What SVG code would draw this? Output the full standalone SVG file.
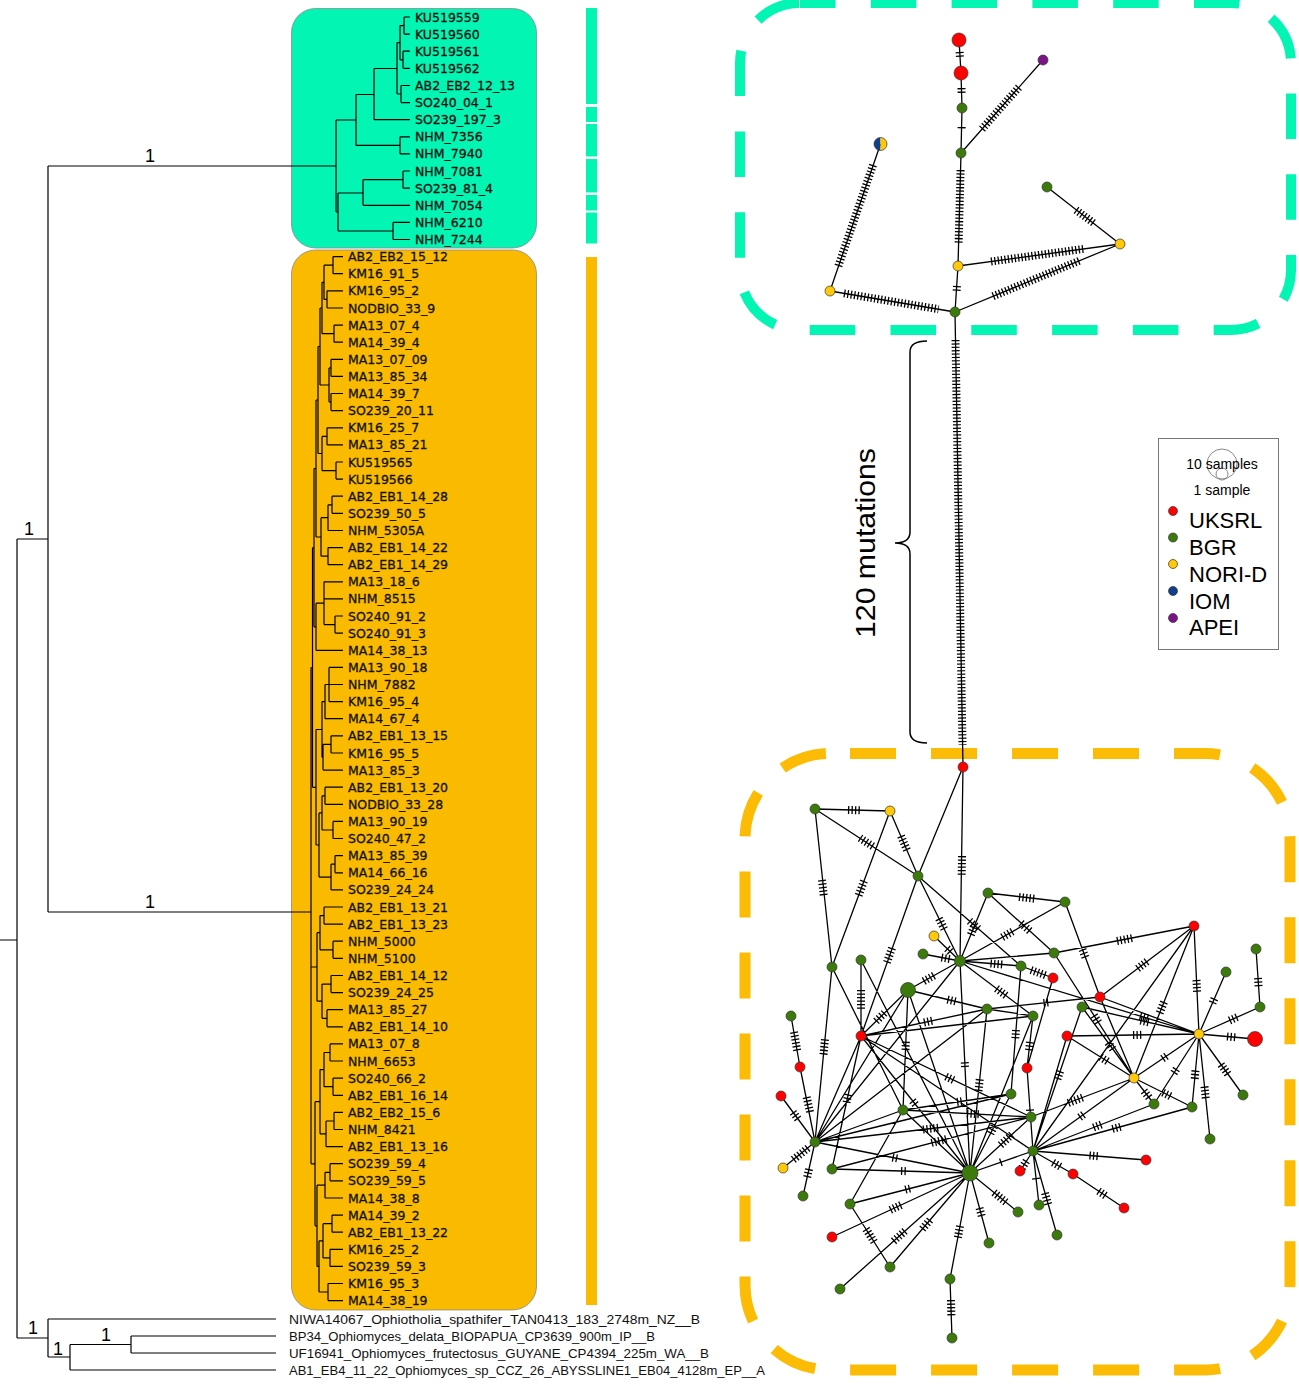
<svg xmlns="http://www.w3.org/2000/svg" width="1299" height="1386" viewBox="0 0 1299 1386">
<style>
.lf{font-family:"DejaVu Sans",sans-serif;font-size:12.5px;fill:#111;stroke:#111;stroke-width:0.3}
.og{font-family:"Liberation Sans",Arial,sans-serif;font-size:13px;fill:#111}
.sp{font-family:"Liberation Sans",Arial,sans-serif;font-size:18px;fill:#000;text-anchor:middle}
.tr{fill:none;stroke:#000;stroke-width:1.2}
.e{fill:none;stroke:#000;stroke-width:1.3}
.k{fill:none;stroke:#000;stroke-width:8}
.kr{stroke-dasharray:1.3 2.1}
.k1{stroke-dasharray:1.3 999}
.k2{stroke-dasharray:1.3 2.2 1.3 999}
.k3{stroke-dasharray:1.3 2.2 1.3 2.2 1.3 999}
.k4{stroke-dasharray:1.3 2.2 1.3 2.2 1.3 2.2 1.3 999}
.k5{stroke-dasharray:1.3 2.2 1.3 2.2 1.3 2.2 1.3 2.2 1.3 999}
.k6{stroke-dasharray:1.3 2.2 1.3 2.2 1.3 2.2 1.3 2.2 1.3 2.2 1.3 999}
.R,.G,.Y,.B,.P{stroke:#333;stroke-width:0.7}
.R{fill:#ff0000}.G{fill:#3b7a0b}.Y{fill:#ffc90a}.B{fill:#123f8c}.P{fill:#7a1487}
.lg{font-family:"Liberation Sans",Arial,sans-serif;fill:#000}
</style>

<!-- clade boxes and bars -->
<g id="clade-teal">
<rect x="291.5" y="8.5" width="245" height="239.5" rx="24" fill="#02f5b2" stroke="#8a8a8a" stroke-width="0.8"/>
</g>
<g id="clade-orange">
<rect x="291.5" y="250" width="245" height="1060" rx="24" fill="#faba00" stroke="#8a8a8a" stroke-width="0.8"/>
</g>
<g id="bars">
<rect x="586" y="8" width="11" height="96" fill="#02f5b2"/>
<rect x="586" y="107" width="11" height="15" fill="#02f5b2"/>
<rect x="586" y="124" width="11" height="32.5" fill="#02f5b2"/>
<rect x="586" y="159" width="11" height="33.5" fill="#02f5b2"/>
<rect x="586" y="195" width="11" height="15.5" fill="#02f5b2"/>
<rect x="586" y="212.5" width="11" height="31" fill="#02f5b2"/>
<rect x="586" y="257" width="11" height="1048" fill="#faba00"/>
</g>

<!-- phylogenetic tree -->
<g id="tree">
<path class="tr" d="M0,940H17 M17,539V1338 M17,539H48 M48,166V912 M48,912H311 M17,1338H48 M48,1319V1357 M48,1319H276 M48,1357H70 M70,1344.5V1370 M70,1344.5H131 M131,1336V1353 M131,1336H276 M131,1353H276 M70,1370H276"/>
<path class="tr" d="M48,166H336 M336,120V212 M336,120H356 M356,94.5V145.4 M356,145.4H400 M400,136.8V153.9 M400,136.8H410 M400,153.9H410 M356,94.5H374 M374,68.5V119.7 M374,119.7H410 M374,68.5H397 M397,42.6V94 M397,42.6H400 M400,25.6V59.8 M400,25.6H404 M404,17V34.1 M404,17H410 M404,34.1H410 M400,59.8H403 M403,51.2V68.3 M403,51.2H410 M403,68.3H410 M397,94H401 M401,85.5V102.6 M401,85.5H410 M401,102.6H410 M336,212H338 M338,193V231 M338,193H363 M363,179.6V205.3 M363,179.6H403 M403,171V188.2 M403,171H410 M403,188.2H410 M363,205.3H410 M338,231H393 M393,222.4V239.5 M393,222.4H410 M393,239.5H410"/>
<path class="tr" d="M333,256.6H343 M333,273.7H343 M327,290.8H343 M327,308H343 M334,325.1H343 M334,342.2H343 M331,359.3H343 M331,376.4H343 M331,393.5H343 M331,410.6H343 M327,427.8H343 M327,444.9H343 M336,462H343 M336,479.1H343 M332,496.2H343 M332,513.3H343 M328,530.5H343 M328,547.6H343 M328,564.7H343 M324,581.8H343 M324,598.9H343 M335,616H343 M335,633.1H343 M316,650.3H343 M329,667.4H343 M329,684.5H343 M329,701.6H343 M325,718.7H343 M331,735.8H343 M331,753H343 M323,770.1H343 M325,787.2H343 M325,804.3H343 M333,821.4H343 M333,838.5H343 M335,855.6H343 M335,872.8H343 M331,889.9H343 M324,907H343 M324,924.1H343 M333,941.2H343 M333,958.3H343 M331,975.5H343 M331,992.6H343 M327,1009.7H343 M327,1026.8H343 M330,1043.9H343 M330,1061H343 M333,1078.1H343 M333,1095.3H343 M334,1112.4H343 M334,1129.5H343 M326,1146.6H343 M330,1163.7H343 M330,1180.8H343 M325,1198H343 M332,1215.1H343 M332,1232.2H343 M330,1249.3H343 M330,1266.4H343 M328,1283.5H343 M328,1300.6H343"/>
<path class="tr" d="M333,256.6V273.7 M327,290.8V308 M334,325.1V342.2 M331,359.3V376.4 M331,393.5V410.6 M327,427.8V444.9 M336,462V479.1 M332,496.2V513.3 M328,504.8V530.5 M328,504.8H332 M328,547.6V564.7 M321,517.7V556.2 M321,517.7H328 M321,556.2H328 M335,616V633.1 M324,581.8V624.6 M324,624.6H335 M316,603.2V650.3 M316,603.2H324 M329,667.4V701.6 M325,684.5V718.7 M325,684.5H329 M331,735.8V753 M323,744.4V770.1 M323,744.4H331 M322,701.6V757.3 M322,701.6H325 M322,757.3H323 M325,787.2V804.3 M333,821.4V838.5 M322,795.8V830 M322,795.8H325 M322,830H333 M335,855.6V872.8 M331,864.2V889.9 M331,864.2H335 M319,812.9V877.1 M319,812.9H322 M319,877.1H331 M316,729.5V845 M316,729.5H322 M316,845H319 M324,265.2V299.4 M324,265.2H333 M324,299.4H327 M322,282.3V333.7 M322,282.3H324 M322,333.7H334 M329,367.9V402.1 M329,367.9H331 M329,402.1H331 M320,308V385 M320,308H322 M320,385H329 M322,436.4V470.6 M322,436.4H327 M322,470.6H336 M318,346.5V453.5 M318,346.5H320 M318,453.5H322 M316,400V537 M316,400H318 M316,537H321 M314,468.5V626.8 M314,468.5H316 M314,626.8H316 M312.5,547.7V787.3 M312.5,547.7H314 M312.5,787.3H316 M324,907V924.1 M333,941.2V958.3 M320,915.6V949.8 M320,915.6H324 M320,949.8H333 M331,975.5V992.6 M327,1009.7V1026.8 M322,984.1V1018.3 M322,984.1H331 M322,1018.3H327 M317,932.7V1001.2 M317,932.7H320 M317,1001.2H322 M330,1043.9V1061 M333,1078.1V1095.3 M324,1052.5V1086.7 M324,1052.5H330 M324,1086.7H333 M334,1112.4V1129.5 M326,1121V1146.6 M326,1121H334 M320,1069.6V1133.8 M320,1069.6H324 M320,1133.8H326 M330,1163.7V1180.8 M325,1172.3V1198 M325,1172.3H330 M332,1215.1V1232.2 M330,1249.3V1266.4 M323,1223.7V1257.9 M323,1223.7H332 M323,1257.9H330 M328,1283.5V1300.6 M319,1240.8V1292 M319,1240.8H323 M319,1292H328 M317,1185.2V1266.4 M317,1185.2H325 M317,1266.4H319 M315,1101.7V1225.8 M315,1101.7H320 M315,1225.8H317 M311,667.5V1163.8 M311,667.5H312.5 M311,967H317 M311,1163.8H315"/>
<text class="sp" x="150" y="162">1</text>
<text class="sp" x="150" y="908">1</text>
<text class="sp" x="29" y="535">1</text>
<text class="sp" x="33" y="1334">1</text>
<text class="sp" x="58" y="1355">1</text>
<text class="sp" x="106" y="1341">1</text>
</g>

<g id="labels">
<text class="lf" x="415" y="21.5">KU519559</text>
<text class="lf" x="415" y="38.6">KU519560</text>
<text class="lf" x="415" y="55.7">KU519561</text>
<text class="lf" x="415" y="72.8">KU519562</text>
<text class="lf" x="415" y="90">AB2_EB2_12_13</text>
<text class="lf" x="415" y="107.1">SO240_04_1</text>
<text class="lf" x="415" y="124.2">SO239_197_3</text>
<text class="lf" x="415" y="141.3">NHM_7356</text>
<text class="lf" x="415" y="158.4">NHM_7940</text>
<text class="lf" x="415" y="175.5">NHM_7081</text>
<text class="lf" x="415" y="192.7">SO239_81_4</text>
<text class="lf" x="415" y="209.8">NHM_7054</text>
<text class="lf" x="415" y="226.9">NHM_6210</text>
<text class="lf" x="415" y="244">NHM_7244</text>
<text class="lf" x="348" y="261.1">AB2_EB2_15_12</text>
<text class="lf" x="348" y="278.2">KM16_91_5</text>
<text class="lf" x="348" y="295.3">KM16_95_2</text>
<text class="lf" x="348" y="312.5">NODBIO_33_9</text>
<text class="lf" x="348" y="329.6">MA13_07_4</text>
<text class="lf" x="348" y="346.7">MA14_39_4</text>
<text class="lf" x="348" y="363.8">MA13_07_09</text>
<text class="lf" x="348" y="380.9">MA13_85_34</text>
<text class="lf" x="348" y="398">MA14_39_7</text>
<text class="lf" x="348" y="415.1">SO239_20_11</text>
<text class="lf" x="348" y="432.3">KM16_25_7</text>
<text class="lf" x="348" y="449.4">MA13_85_21</text>
<text class="lf" x="348" y="466.5">KU519565</text>
<text class="lf" x="348" y="483.6">KU519566</text>
<text class="lf" x="348" y="500.7">AB2_EB1_14_28</text>
<text class="lf" x="348" y="517.8">SO239_50_5</text>
<text class="lf" x="348" y="535">NHM_5305A</text>
<text class="lf" x="348" y="552.1">AB2_EB1_14_22</text>
<text class="lf" x="348" y="569.2">AB2_EB1_14_29</text>
<text class="lf" x="348" y="586.3">MA13_18_6</text>
<text class="lf" x="348" y="603.4">NHM_8515</text>
<text class="lf" x="348" y="620.5">SO240_91_2</text>
<text class="lf" x="348" y="637.6">SO240_91_3</text>
<text class="lf" x="348" y="654.8">MA14_38_13</text>
<text class="lf" x="348" y="671.9">MA13_90_18</text>
<text class="lf" x="348" y="689">NHM_7882</text>
<text class="lf" x="348" y="706.1">KM16_95_4</text>
<text class="lf" x="348" y="723.2">MA14_67_4</text>
<text class="lf" x="348" y="740.3">AB2_EB1_13_15</text>
<text class="lf" x="348" y="757.5">KM16_95_5</text>
<text class="lf" x="348" y="774.6">MA13_85_3</text>
<text class="lf" x="348" y="791.7">AB2_EB1_13_20</text>
<text class="lf" x="348" y="808.8">NODBIO_33_28</text>
<text class="lf" x="348" y="825.9">MA13_90_19</text>
<text class="lf" x="348" y="843">SO240_47_2</text>
<text class="lf" x="348" y="860.1">MA13_85_39</text>
<text class="lf" x="348" y="877.3">MA14_66_16</text>
<text class="lf" x="348" y="894.4">SO239_24_24</text>
<text class="lf" x="348" y="911.5">AB2_EB1_13_21</text>
<text class="lf" x="348" y="928.6">AB2_EB1_13_23</text>
<text class="lf" x="348" y="945.7">NHM_5000</text>
<text class="lf" x="348" y="962.8">NHM_5100</text>
<text class="lf" x="348" y="980">AB2_EB1_14_12</text>
<text class="lf" x="348" y="997.1">SO239_24_25</text>
<text class="lf" x="348" y="1014.2">MA13_85_27</text>
<text class="lf" x="348" y="1031.3">AB2_EB1_14_10</text>
<text class="lf" x="348" y="1048.4">MA13_07_8</text>
<text class="lf" x="348" y="1065.5">NHM_6653</text>
<text class="lf" x="348" y="1082.6">SO240_66_2</text>
<text class="lf" x="348" y="1099.8">AB2_EB1_16_14</text>
<text class="lf" x="348" y="1116.9">AB2_EB2_15_6</text>
<text class="lf" x="348" y="1134">NHM_8421</text>
<text class="lf" x="348" y="1151.1">AB2_EB1_13_16</text>
<text class="lf" x="348" y="1168.2">SO239_59_4</text>
<text class="lf" x="348" y="1185.3">SO239_59_5</text>
<text class="lf" x="348" y="1202.5">MA14_38_8</text>
<text class="lf" x="348" y="1219.6">MA14_39_2</text>
<text class="lf" x="348" y="1236.7">AB2_EB1_13_22</text>
<text class="lf" x="348" y="1253.8">KM16_25_2</text>
<text class="lf" x="348" y="1270.9">SO239_59_3</text>
<text class="lf" x="348" y="1288">KM16_95_3</text>
<text class="lf" x="348" y="1305.1">MA14_38_19</text>
<text class="og" x="289" y="1323.5" textLength="411" lengthAdjust="spacingAndGlyphs">NIWA14067_Ophiotholia_spathifer_TAN0413_183_2748m_NZ__B</text>
<text class="og" x="289" y="1340.5" textLength="366" lengthAdjust="spacingAndGlyphs">BP34_Ophiomyces_delata_BIOPAPUA_CP3639_900m_IP__B</text>
<text class="og" x="289" y="1357.5" textLength="420" lengthAdjust="spacingAndGlyphs">UF16941_Ophiomyces_frutectosus_GUYANE_CP4394_225m_WA__B</text>
<text class="og" x="289" y="1374.5" textLength="476" lengthAdjust="spacingAndGlyphs">AB1_EB4_11_22_Ophiomyces_sp_CCZ_26_ABYSSLINE1_EB04_4128m_EP__A</text>
</g>

<!-- dashed group frames -->
<g id="frame-teal">
<rect x="740" y="3" width="551" height="327" rx="60" fill="none" stroke="#02f5b2" stroke-width="10" stroke-dasharray="45.5 35.3" stroke-dashoffset="10"/>
</g>
<g id="frame-orange">
<rect x="745" y="753.5" width="545" height="616.5" rx="85" fill="none" stroke="#fcbb05" stroke-width="11" stroke-dasharray="46 35" stroke-dashoffset="61"/>
</g>

<!-- brace and mutation label -->
<g id="brace">
<path d="M927,341 Q910,341 910,352 V532 Q910,543 895,543 Q910,543 910,554 V732 Q910,743 927,743" fill="none" stroke="#000" stroke-width="1.5"/>
<text class="lg" font-size="28" text-anchor="middle" transform="translate(875,543) rotate(-90)" textLength="190" lengthAdjust="spacingAndGlyphs">120 mutations</text>
</g>

<g id="connectors">
<path class="e" d="M959,40L961,73 M961,73L962,108 M962,108L961,153 M961,153L1043,60 M961,153L958,266 M880.5,144L830,291 M830,291L955,312 M958,266L1120,244 M955,312L1120,244 M1047,187L1120,244 M958,266L955,312 M955,312L963,767"/>
<path class="k k2" d="M959.6,52L961,73"/>
<path class="k k2" d="M961.5,88L962,108"/>
<path class="k k1" d="M961.6,127L961,153"/>
<path class="k k2" d="M957,286L955,312"/>
<path class="k kr" d="M982,129L1020,86"/>
<path class="k kr" d="M960.6,170L958.6,243"/>
<path class="k kr" d="M873,165L838,267"/>
<path class="k kr" d="M844,293.4L938.6,309.2"/>
<path class="k kr" d="M991,261.5L1083.6,248.9"/>
<path class="k kr" d="M993,296.3L1080,260.5"/>
<path class="k kr" d="M1076,210L1095,224"/>
<path class="k" style="stroke-dasharray:1.2 2.17" d="M955.5,340L962.5,745"/>

<path class="e" d="M963,767L960,961 M963,767L918,876 M815,809L890,811 M815,809L918,876 M815,809L832,967 M890,811L918,876 M890,811L832,967 M918,876L861,1036 M918,876L960,961 M918,876L1021,966 M988,893L1065,902 M988,893L960,961 M988,893L1054,953 M1065,902L960,961 M1065,902L1100,997 M934,936L960,961 M923,954L960,961 M960,961L1054,953 M960,961L1021,966 M1054,953L1194,926 M1021,966L1053,978 M960,961L908,990 M960,961L1033,1016 M960,961L1199,1034 M908,990L987,1009 M987,1009L1100,997 M987,1009L1033,1016 M1194,926L1100,997 M1194,926L1199,1034 M1194,926L1134,1078 M1194,926L1033,1151 M1082,1007L1199,1034 M1100,997L1199,1034 M1100,997L1134,1078 M1082,1007L1134,1078 M1067,1036L1199,1034 M1067,1036L1134,1078 M1199,1034L1255,1039 M1199,1034L1260,1007 M1256,949L1260,1007 M1199,1034L1226,972 M1199,1034L1243,1095 M1199,1034L1210,1139 M1199,1034L1192,1107 M1199,1034L1134,1078 M1199,1034L1154,1104 M1134,1078L1031,1117 M1134,1078L1033,1151 M1134,1078L1154,1104 M1134,1078L1192,1107 M1033,1151L1154,1104 M1033,1151L1192,1107 M1033,1151L1146,1160 M1033,1151L1073,1174 M1073,1174L1124,1208 M1033,1151L1020,1171 M1033,1151L1039,1205 M1033,1151L1057,1235 M1033,1151L970,1173 M1033,1016L1027,1068 M1027,1068L1033,1151 M1033,1151L1067,1036 M1033,1151L1082,1007 M815,1142L800,1067 M815,1142L781,1096 M815,1142L783,1168 M815,1142L803,1196 M815,1142L970,1173 M815,1142L1031,1117 M815,1142L1011,1094 M815,1142L903,1110 M815,1142L908,990 M815,1142L960,961 M815,1142L861,1036 M815,1142L987,1009 M815,1142L832,967 M791,1016L800,1067 M832,1169L970,1173 M832,1169L1031,1117 M832,1169L861,1036 M903,1110L1011,1094 M903,1110L1031,1117 M903,1110L850,1204 M903,1110L970,1173 M903,1110L908,990 M832,967L903,1110 M970,1173L850,1204 M970,1173L832,1237 M970,1173L840,1289 M970,1173L890,1267 M970,1173L950,1279 M970,1173L989,1243 M970,1173L1018,1212 M970,1173L1031,1117 M970,1173L1011,1094 M970,1173L861,1036 M970,1173L908,990 M970,1173L960,961 M970,1173L987,1009 M970,1173L1033,1016 M970,1173L861,960 M850,1204L890,1267 M950,1279L952,1338 M861,960L861,1036 M908,990L861,1036 M861,1036L987,1009 M861,1036L1033,1016 M861,1036L1033,1151 M861,1036L1031,1117 M1053,978L1027,1068 M1054,953L1134,1078 M1021,966L1011,1094"/>
<path class="k k6" d="M962,856L960,961"/>
<path class="k k4" d="M848,810L890,811"/>
<path class="k k5" d="M860,838L918,876"/>
<path class="k k5" d="M822,880L832,967"/>
<path class="k k5" d="M901,836L918,876"/>
<path class="k k5" d="M864,881L832,967"/>
<path class="k k5" d="M892,948L861,1036"/>
<path class="k k4" d="M939,918.5L960,961"/>
<path class="k k4" d="M969.5,921L1021,966"/>
<path class="k k5" d="M1019,897L1065,902"/>
<path class="k k3" d="M974,927L960,961"/>
<path class="k k4" d="M1021,923L1054,953"/>
<path class="k k4" d="M1012.5,931.5L960,961"/>
<path class="k k3" d="M1082.5,949.5L1100,997"/>
<path class="k k2" d="M947,948.5L960,961"/>
<path class="k k3" d="M941.5,957.5L960,961"/>
<path class="k k4" d="M990.5,963.5L1021,966"/>
<path class="k k5" d="M1117,941L1194,926"/>
<path class="k k5" d="M1031,970L1053,978"/>
<path class="k k4" d="M934,975.5L908,990"/>
<path class="k k4" d="M996.5,988.5L1033,1016"/>
<path class="k k3" d="M1140,1016L1199,1034"/>
<path class="k k3" d="M947.5,999.5L987,1009"/>
<path class="k k2" d="M1043.5,1003L1100,997"/>
<path class="k k4" d="M1147,961.5L1100,997"/>
<path class="k k4" d="M1196.5,980L1199,1034"/>
<path class="k k4" d="M1164,1002L1134,1078"/>
<path class="k k3" d="M1140.5,1020.5L1199,1034"/>
<path class="k k3" d="M1108,1042.5L1134,1078"/>
<path class="k k3" d="M1133,1035L1199,1034"/>
<path class="k k3" d="M1100.5,1057L1134,1078"/>
<path class="k k3" d="M1227,1036.5L1255,1039"/>
<path class="k k3" d="M1229.5,1020.5L1260,1007"/>
<path class="k k3" d="M1258,978L1260,1007"/>
<path class="k k2" d="M1212.5,1003L1226,972"/>
<path class="k k4" d="M1221,1064.5L1243,1095"/>
<path class="k k4" d="M1204.5,1086.5L1210,1139"/>
<path class="k k3" d="M1195.5,1070.5L1192,1107"/>
<path class="k k2" d="M1166.5,1056L1134,1078"/>
<path class="k k2" d="M1176.5,1069L1154,1104"/>
<path class="k k5" d="M1082.5,1097.5L1031,1117"/>
<path class="k k2" d="M1083.5,1114.5L1033,1151"/>
<path class="k k3" d="M1144,1091L1154,1104"/>
<path class="k k3" d="M1163,1092.5L1192,1107"/>
<path class="k k3" d="M1093.5,1127.5L1154,1104"/>
<path class="k k3" d="M1112.5,1129L1192,1107"/>
<path class="k k3" d="M1089.5,1155.5L1146,1160"/>
<path class="k k3" d="M1053,1162.5L1073,1174"/>
<path class="k k3" d="M1098.5,1191L1124,1208"/>
<path class="k k3" d="M1026.5,1161L1020,1171"/>
<path class="k k1" d="M1036,1178L1039,1205"/>
<path class="k k4" d="M1045,1193L1057,1235"/>
<path class="k k1" d="M1001.5,1162L970,1173"/>
<path class="k k3" d="M1030,1042L1027,1068"/>
<path class="k k1" d="M1030,1109.5L1033,1151"/>
<path class="k k3" d="M1057.5,1079L1082,1007"/>
<path class="k k5" d="M810,1112L800,1067"/>
<path class="k k3" d="M798,1119L781,1096"/>
<path class="k k6" d="M808,1148L783,1168"/>
<path class="k k3" d="M809,1169L803,1196"/>
<path class="k k2" d="M892.5,1157.5L970,1173"/>
<path class="k k5" d="M923,1129.5L1031,1117"/>
<path class="k k5" d="M823.5,1054.5L832,967"/>
<path class="k k6" d="M794,1032L800,1067"/>
<path class="k k2" d="M901,1171L970,1173"/>
<path class="k k5" d="M931.5,1143L1031,1117"/>
<path class="k k3" d="M846.5,1102.5L861,1036"/>
<path class="k k2" d="M957,1102L1011,1094"/>
<path class="k k4" d="M967,1113.5L1031,1117"/>
<path class="k k3" d="M905.5,1050L908,990"/>
<path class="k k2" d="M910,1188.5L850,1204"/>
<path class="k k4" d="M901,1205L832,1237"/>
<path class="k k5" d="M905,1231L840,1289"/>
<path class="k k4" d="M930,1220L890,1267"/>
<path class="k k4" d="M960,1226L950,1279"/>
<path class="k k3" d="M979.5,1208L989,1243"/>
<path class="k k5" d="M994,1192.5L1018,1212"/>
<path class="k k5" d="M1000.5,1145L1031,1117"/>
<path class="k k3" d="M990.5,1133.5L1011,1094"/>
<path class="k k2" d="M915.5,1104.5L861,1036"/>
<path class="k k2" d="M965,1067L960,961"/>
<path class="k k4" d="M978.5,1091L987,1009"/>
<path class="k k5" d="M866,1229L890,1267"/>
<path class="k k5" d="M951,1300L952,1338"/>
<path class="k k6" d="M861,990L861,1036"/>
<path class="k k4" d="M884.5,1013L861,1036"/>
<path class="k k3" d="M924,1022.5L987,1009"/>
<path class="k k3" d="M946,1076.5L1031,1117"/>
<path class="k k3" d="M1094,1015.5L1134,1078"/>
<path class="k k3" d="M1016,1030L1011,1094"/>
</g>

<!-- top network nodes -->
<g id="t1"><circle class="R" cx="959" cy="40" r="7"/></g>
<g id="t2"><circle class="R" cx="961" cy="73" r="7"/></g>
<g id="t3"><circle class="G" cx="962" cy="108" r="5"/></g>
<g id="t4"><circle class="G" cx="961" cy="153" r="5"/></g>
<g id="t5"><circle class="P" cx="1043" cy="60" r="5"/></g>
<g id="t6"><path d="M880.5,137.5A6.5,6.5 0 0 0 880.5,150.5Z" fill="#123f8c"/><path d="M880.5,137.5A6.5,6.5 0 0 1 880.5,150.5Z" fill="#ffc90a"/><circle cx="880.5" cy="144" r="6.5" fill="none" stroke="#333" stroke-width="0.7"/></g>
<g id="t7"><circle class="G" cx="1047" cy="187" r="5"/></g>
<g id="t8"><circle class="Y" cx="1120" cy="244" r="5"/></g>
<g id="t9"><circle class="Y" cx="958" cy="266" r="5"/></g>
<g id="t10"><circle class="Y" cx="830" cy="291" r="5"/></g>
<g id="t11"><circle class="G" cx="955" cy="312" r="5"/></g>

<!-- bottom network nodes -->
<g id="b1"><circle class="R" cx="963" cy="767" r="5"/></g>
<g id="b2"><circle class="G" cx="815" cy="809" r="5"/></g>
<g id="b3"><circle class="Y" cx="890" cy="811" r="5"/></g>
<g id="b4"><circle class="G" cx="918" cy="876" r="5"/></g>
<g id="b5"><circle class="G" cx="988" cy="893" r="5"/></g>
<g id="b6"><circle class="G" cx="1065" cy="902" r="5"/></g>
<g id="b7"><circle class="R" cx="1194" cy="926" r="5"/></g>
<g id="b8"><circle class="Y" cx="934" cy="936" r="5"/></g>
<g id="b9"><circle class="G" cx="923" cy="954" r="5"/></g>
<g id="b10"><circle class="G" cx="960" cy="961" r="5.5"/></g>
<g id="b11"><circle class="G" cx="1054" cy="953" r="5"/></g>
<g id="b12"><circle class="G" cx="832" cy="967" r="5"/></g>
<g id="b13"><circle class="G" cx="861" cy="960" r="5"/></g>
<g id="b14"><circle class="G" cx="1021" cy="966" r="5"/></g>
<g id="b15"><circle class="R" cx="1053" cy="978" r="5"/></g>
<g id="b16"><circle class="G" cx="908" cy="990" r="7.5"/></g>
<g id="b17"><circle class="G" cx="1256" cy="949" r="5"/></g>
<g id="b18"><circle class="G" cx="1226" cy="972" r="5"/></g>
<g id="b19"><circle class="R" cx="1100" cy="997" r="5"/></g>
<g id="b20"><circle class="G" cx="1082" cy="1007" r="5"/></g>
<g id="b21"><circle class="G" cx="987" cy="1009" r="5"/></g>
<g id="b22"><circle class="G" cx="1033" cy="1016" r="5"/></g>
<g id="b23"><circle class="G" cx="791" cy="1016" r="5"/></g>
<g id="b24"><circle class="R" cx="861" cy="1036" r="5"/></g>
<g id="b25"><circle class="R" cx="1067" cy="1036" r="5"/></g>
<g id="b26"><circle class="Y" cx="1199" cy="1034" r="5"/></g>
<g id="b27"><circle class="R" cx="1255" cy="1039" r="7.5"/></g>
<g id="b28"><circle class="G" cx="1260" cy="1007" r="5"/></g>
<g id="b29"><circle class="R" cx="800" cy="1067" r="5"/></g>
<g id="b30"><circle class="R" cx="1027" cy="1068" r="5"/></g>
<g id="b31"><circle class="Y" cx="1134" cy="1078" r="5"/></g>
<g id="b32"><circle class="R" cx="781" cy="1096" r="5"/></g>
<g id="b33"><circle class="G" cx="903" cy="1110" r="5"/></g>
<g id="b34"><circle class="G" cx="1011" cy="1094" r="5"/></g>
<g id="b35"><circle class="G" cx="1031" cy="1117" r="5"/></g>
<g id="b36"><circle class="G" cx="1154" cy="1104" r="5"/></g>
<g id="b37"><circle class="G" cx="1192" cy="1107" r="5"/></g>
<g id="b38"><circle class="G" cx="1243" cy="1095" r="5"/></g>
<g id="b39"><circle class="G" cx="815" cy="1142" r="5"/></g>
<g id="b40"><circle class="G" cx="1033" cy="1151" r="5"/></g>
<g id="b41"><circle class="G" cx="1210" cy="1139" r="5"/></g>
<g id="b42"><circle class="Y" cx="783" cy="1168" r="5"/></g>
<g id="b43"><circle class="G" cx="832" cy="1169" r="5"/></g>
<g id="b44"><circle class="G" cx="970" cy="1173" r="8"/></g>
<g id="b45"><circle class="R" cx="1020" cy="1171" r="5"/></g>
<g id="b46"><circle class="R" cx="1073" cy="1174" r="5"/></g>
<g id="b47"><circle class="R" cx="1146" cy="1160" r="5"/></g>
<g id="b48"><circle class="G" cx="803" cy="1196" r="5"/></g>
<g id="b49"><circle class="G" cx="850" cy="1204" r="5"/></g>
<g id="b50"><circle class="G" cx="1018" cy="1212" r="5"/></g>
<g id="b51"><circle class="G" cx="1039" cy="1205" r="5"/></g>
<g id="b52"><circle class="R" cx="1124" cy="1208" r="5"/></g>
<g id="b53"><circle class="R" cx="832" cy="1237" r="5"/></g>
<g id="b54"><circle class="G" cx="989" cy="1243" r="5"/></g>
<g id="b55"><circle class="G" cx="1057" cy="1235" r="5"/></g>
<g id="b56"><circle class="G" cx="890" cy="1267" r="5"/></g>
<g id="b57"><circle class="G" cx="840" cy="1289" r="5"/></g>
<g id="b58"><circle class="G" cx="950" cy="1279" r="5"/></g>
<g id="b59"><circle class="G" cx="952" cy="1338" r="5"/></g>

<!-- legend -->
<g id="legend">
<rect x="1158.5" y="438.5" width="120" height="211" fill="#fff" stroke="#777" stroke-width="1"/>
<circle cx="1222" cy="464" r="15" fill="none" stroke="#888" stroke-width="1"/>
<circle cx="1222" cy="474" r="6" fill="none" stroke="#888" stroke-width="1"/>
<text class="lg" x="1222" y="469" font-size="14" text-anchor="middle">10 samples</text>
<text class="lg" x="1222" y="495" font-size="14" text-anchor="middle">1 sample</text>
<circle class="R" cx="1173" cy="511" r="4.5"/>
<circle class="G" cx="1173" cy="537.5" r="4.5"/>
<circle class="Y" cx="1173" cy="564" r="4.5"/>
<circle class="B" cx="1173" cy="591" r="4.5"/>
<circle class="P" cx="1173" cy="618" r="4.5"/>
<text class="lg" x="1189" y="527.5" font-size="22">UKSRL</text>
<text class="lg" x="1189" y="554.5" font-size="22">BGR</text>
<text class="lg" x="1189" y="581.5" font-size="22">NORI-D</text>
<text class="lg" x="1189" y="608.5" font-size="22">IOM</text>
<text class="lg" x="1189" y="634.5" font-size="22">APEI</text>
</g>
</svg>
